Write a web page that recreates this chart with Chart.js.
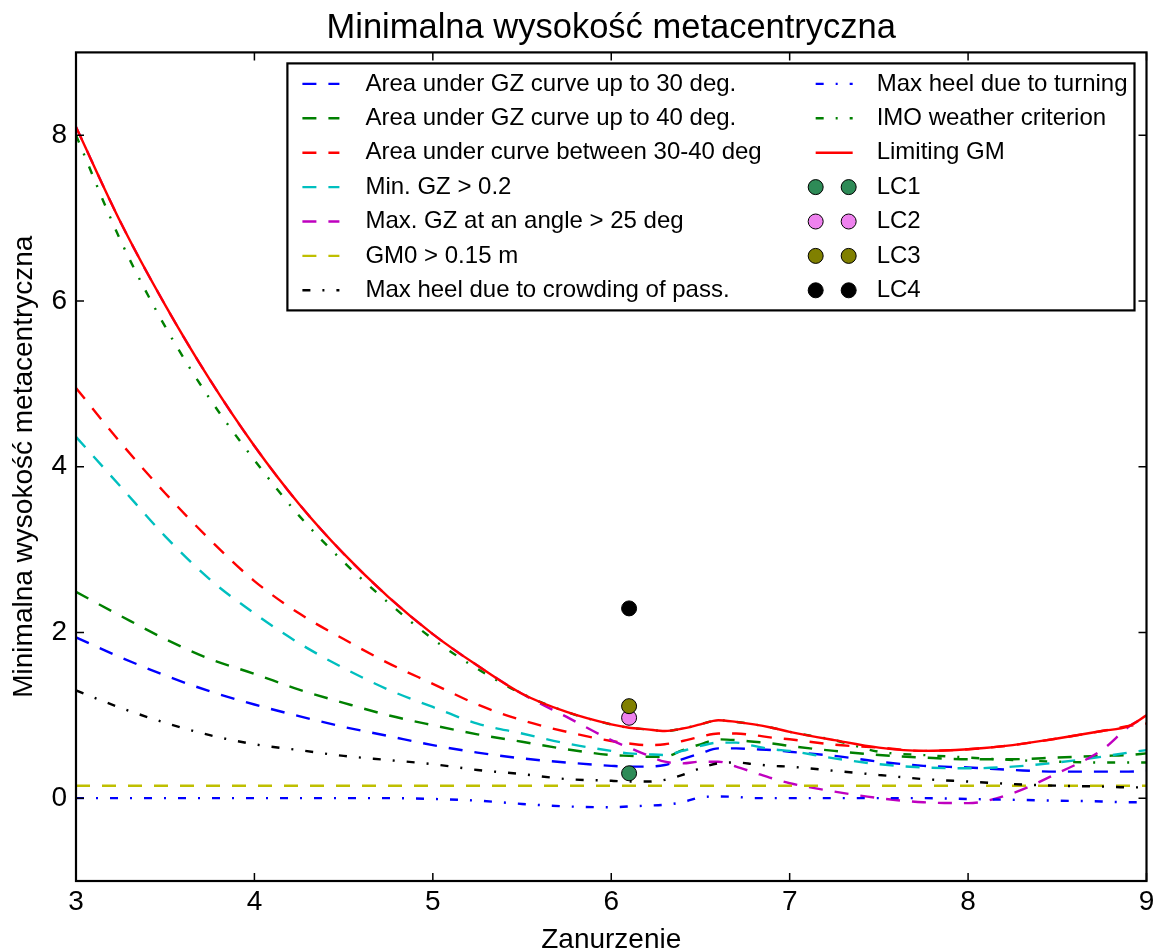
<!DOCTYPE html>
<html>
<head>
<meta charset="utf-8">
<title>Minimalna wysokość metacentryczna</title>
<script src="https://cdn.jsdelivr.net/npm/chart.js@4.4.1/dist/chart.umd.min.js"></script>
<style>
  html, body { margin: 0; padding: 0; background: #fff; }
  #wrap { width: 1155px; height: 952px; }
</style>
</head>
<body>
<div id="wrap"><canvas id="gmChart" width="1155" height="952"></canvas></div>
<script>
// --- dane: zanurzenie [m] i minimalne GM dla kolejnych kryteriów ---
const zanurzenie = [3.0, 3.25, 3.5, 3.75, 4.0, 4.25, 4.5, 4.75, 5.0, 5.25, 5.5, 5.75,
                    6.0, 6.1, 6.2, 6.3, 6.4, 6.5, 6.6, 6.7, 6.8, 6.9, 7.0,
                    7.25, 7.5, 7.75, 8.0, 8.25, 8.5, 8.75, 8.9, 9.0];

const area30    = [1.94, 1.70, 1.48, 1.29, 1.13, 0.99, 0.86, 0.75, 0.64, 0.55, 0.48, 0.43,
                   0.39, 0.38, 0.38, 0.40, 0.47, 0.54, 0.60, 0.60, 0.59, 0.58, 0.56,
                   0.51, 0.44, 0.39, 0.37, 0.34, 0.32, 0.32, 0.32, 0.33];
const area40    = [2.49, 2.20, 1.92, 1.68, 1.50, 1.31, 1.15, 1.00, 0.88, 0.77, 0.68, 0.59,
                   0.52, 0.51, 0.50, 0.50, 0.58, 0.65, 0.71, 0.70, 0.68, 0.66, 0.63,
                   0.57, 0.52, 0.49, 0.47, 0.47, 0.49, 0.51, 0.52, 0.54];
const area3040  = [4.95, 4.29, 3.68, 3.12, 2.62, 2.23, 1.92, 1.63, 1.38, 1.13, 0.94, 0.80,
                   0.69, 0.66, 0.64, 0.65, 0.69, 0.74, 0.78, 0.78, 0.76, 0.73, 0.71,
                   0.645, 0.61, 0.57, 0.59, 0.64, 0.72, 0.81, 0.87, 0.90];
const minGZ     = [4.36, 3.76, 3.16, 2.64, 2.23, 1.87, 1.57, 1.31, 1.10, 0.90, 0.78, 0.66,
                   0.57, 0.54, 0.53, 0.52, 0.57, 0.63, 0.67, 0.67, 0.63, 0.59, 0.57,
                   0.48, 0.41, 0.37, 0.36, 0.38, 0.43, 0.50, 0.55, 0.58];
const maxGZ25   = [8.10, 6.95, 5.95, 5.05, 4.25, 3.55, 2.95, 2.43, 1.98, 1.60, 1.26, 0.98,
                   0.70, 0.61, 0.52, 0.44, 0.42, 0.44, 0.44, 0.38, 0.31, 0.24, 0.18,
                   0.08, 0.00, -0.05, -0.06, 0.06, 0.30, 0.58, 0.86, 0.99];
const gm0X      = [3.0, 9.0];
const gm0       = [0.15, 0.15];
const crowding  = [1.30, 1.09, 0.91, 0.76, 0.65, 0.58, 0.51, 0.46, 0.41, 0.34, 0.29, 0.23,
                   0.21, 0.20, 0.20, 0.22, 0.28, 0.36, 0.42, 0.43, 0.41, 0.39, 0.38,
                   0.33, 0.28, 0.23, 0.20, 0.17, 0.15, 0.14, 0.13, 0.13];
const turning   = [0.00, 0.00, 0.00, 0.00, 0.00, 0.00, 0.00, 0.00, -0.01, -0.03, -0.07, -0.10,
                   -0.11, -0.10, -0.09, -0.08, -0.05, 0.01, 0.02, 0.015, 0.00, 0.00, 0.00,
                   0.00, 0.00, 0.00, -0.01, -0.02, -0.03, -0.04, -0.05, -0.05];
const imoWeather = [8.00, 6.73, 5.69, 4.82, 4.08, 3.41, 2.85, 2.36, 1.92, 1.56, 1.26, 1.04,
                    0.89, 0.85, 0.83, 0.81, 0.84, 0.89, 0.94, 0.92, 0.89, 0.85, 0.80,
                    0.70, 0.56, 0.52, 0.49, 0.46, 0.44, 0.43, 0.43, 0.43];
const limitingGM = [8.10, 6.95, 5.95, 5.05, 4.25, 3.55, 2.95, 2.43, 1.98, 1.60, 1.26, 1.04,
                    0.89, 0.85, 0.83, 0.81, 0.84, 0.89, 0.94, 0.92, 0.89, 0.85, 0.80,
                    0.70, 0.61, 0.57, 0.59, 0.64, 0.72, 0.81, 0.87, 1.00];

// stany załadowania LC1..LC4
const lcLabels = ['LC1', 'LC2', 'LC3', 'LC4'];
const lcX      = [6.1, 6.1, 6.1, 6.1];
const lcGM     = [0.30, 0.97, 1.11, 2.29];
const lcColors = ['#2e8b57', '#ee82ee', '#808000', '#000000'];

const xTicks = [3, 4, 5, 6, 7, 8, 9];
const yTicks = [0, 2, 4, 6, 8];

const FONT = '"Liberation Sans", Arial, Helvetica, sans-serif';
const DASH = [14, 12];
const DASHDOT = [8, 12, 2, 12];
const LINE_W = 2.4;

function seria(label, values, color, dash, xs = zanurzenie) {
    return {
        label,
        data: values.map((v, i) => ({ x: xs[i], y: v })),
        borderColor: color,
        backgroundColor: color,
        borderWidth: LINE_W,
        borderDash: dash,
        cubicInterpolationMode: 'monotone',
        pointRadius: 0,
        fill: false
    };
}

const datasets = [
    seria('Area under GZ curve up to 30 deg.', area30, '#0000ff', DASH),
    seria('Area under GZ curve up to 40 deg.', area40, '#008000', DASH),
    seria('Area under curve between 30-40 deg', area3040, '#ff0000', DASH),
    seria('Min. GZ > 0.2', minGZ, '#00bfbf', DASH),
    seria('Max. GZ at an angle > 25 deg', maxGZ25, '#bf00bf', DASH),
    seria('GM0 > 0.15 m', gm0, '#bfbf00', DASH, gm0X),
    seria('Max heel due to crowding of pass.', crowding, '#000000', DASHDOT),
    seria('Max heel due to turning', turning, '#0000ff', DASHDOT),
    seria('IMO weather criterion', imoWeather, '#008000', DASHDOT),
    seria('Limiting GM', limitingGM, '#ff0000', [])
];

lcLabels.forEach((name, i) => {
    datasets.push({
        label: name,
        data: [{ x: lcX[i], y: lcGM[i] }],
        showLine: false,
        pointRadius: 7.5,
        pointHoverRadius: 7.5,
        pointBackgroundColor: lcColors[i],
        pointBorderColor: '#000',
        pointBorderWidth: 1,
        borderColor: '#000',
        backgroundColor: lcColors[i],
        isMarker: true
    });
});

// później dodane serie rysowane na wierzchu
datasets.forEach((d, i) => { d.order = datasets.length - i; });

// ramka wykresu i znaczniki podziałki skierowane do środka, na wszystkich bokach
const ramkaPlugin = {
    id: 'ramka',
    afterDraw(chart) {
        const { ctx, chartArea: a, scales: { x, y } } = chart;
        const tick = 8;
        ctx.save();
        ctx.strokeStyle = '#000';
        ctx.lineWidth = 1.5;
        ctx.setLineDash([]);
        ctx.beginPath();
        x.ticks.forEach(t => {
            const px = x.getPixelForValue(t.value);
            ctx.moveTo(px, a.bottom); ctx.lineTo(px, a.bottom - tick);
            ctx.moveTo(px, a.top); ctx.lineTo(px, a.top + tick);
        });
        y.ticks.forEach(t => {
            const py = y.getPixelForValue(t.value);
            ctx.moveTo(a.left, py); ctx.lineTo(a.left + tick, py);
            ctx.moveTo(a.right, py); ctx.lineTo(a.right - tick, py);
        });
        ctx.stroke();
        ctx.lineWidth = 2.2;
        ctx.strokeRect(a.left, a.top, a.right - a.left, a.bottom - a.top);
        ctx.restore();
    }
};

// legenda w dwóch kolumnach, w prawym górnym rogu obszaru wykresu
const legendaPlugin = {
    id: 'legenda',
    afterDraw(chart) {
        const { ctx, chartArea: a } = chart;
        const ds = chart.data.datasets;
        const cols = [ds.slice(0, 7), ds.slice(7)];
        const pad = 15, handle = 37, gaps = [26, 24], colGap = 54, padRight = 7;
        const rowH = 34.4;

        ctx.save();
        ctx.font = '24px ' + FONT;
        const widths = cols.map(c => Math.max(...c.map(d => ctx.measureText(d.label).width)));
        const width = pad + handle + gaps[0] + widths[0] + colGap + handle + gaps[1] + widths[1] + padRight;
        const height = 247;
        const right = a.right - 12;
        const top = a.top + 11;
        const left = right - width;

        ctx.fillStyle = '#fff';
        ctx.fillRect(left, top, width, height);
        ctx.lineWidth = 2.2;
        ctx.strokeStyle = '#000';
        ctx.setLineDash([]);
        ctx.strokeRect(left, top, width, height);

        let hx = left + pad;
        cols.forEach((col, c) => {
            col.forEach((d, r) => {
                const cy = top + 20.5 + r * rowH;
                if (d.isMarker) {
                    [hx, hx + 33].forEach(mx => {
                        ctx.beginPath();
                        ctx.setLineDash([]);
                        ctx.arc(mx, cy, 7.5, 0, Math.PI * 2);
                        ctx.fillStyle = d.pointBackgroundColor;
                        ctx.fill();
                        ctx.lineWidth = 1;
                        ctx.strokeStyle = '#000';
                        ctx.stroke();
                    });
                } else {
                    ctx.beginPath();
                    ctx.setLineDash(d.borderDash || []);
                    ctx.lineDashOffset = 0;
                    ctx.lineWidth = LINE_W;
                    ctx.strokeStyle = d.borderColor;
                    ctx.moveTo(hx, cy);
                    ctx.lineTo(hx + handle, cy);
                    ctx.stroke();
                }
                ctx.setLineDash([]);
                ctx.fillStyle = '#000';
                ctx.textAlign = 'left';
                ctx.textBaseline = 'middle';
                ctx.fillText(d.label, hx + handle + gaps[c], cy);
            });
            hx += handle + gaps[c] + widths[c] + colGap;
        });
        ctx.restore();
    }
};

Chart.defaults.font.family = FONT;
Chart.defaults.color = '#000';

new Chart(document.getElementById('gmChart').getContext('2d'), {
    type: 'line',
    data: { datasets },
    options: {
        responsive: false,
        animation: false,
        events: [],
        layout: { padding: { top: 0, right: 0, bottom: 0, left: 0 } },
        plugins: {
            legend: { display: false },
            tooltip: { enabled: false },
            title: {
                display: true,
                fullSize: false,
                text: 'Minimalna wysokość metacentryczna',
                color: '#000',
                font: { size: 34.5, weight: 'normal' },
                padding: { top: 8, bottom: 3 }
            }
        },
        scales: {
            x: {
                type: 'linear',
                min: 3,
                max: 9,
                afterBuildTicks: s => { s.ticks = xTicks.map(v => ({ value: v })); },
                afterFit: s => { s.height = 71; s.paddingLeft = 0; s.paddingRight = 8; },
                grid: { display: false, drawTicks: false },
                border: { display: false },
                ticks: { font: { size: 28 }, color: '#000', padding: 4, maxRotation: 0, autoSkip: false },
                title: {
                    display: true,
                    text: 'Zanurzenie',
                    color: '#000',
                    font: { size: 28 },
                    padding: { top: 0, bottom: -5 }
                }
            },
            y: {
                type: 'linear',
                min: -1,
                max: 9,
                afterBuildTicks: s => { s.ticks = yTicks.map(v => ({ value: v })); },
                afterFit: s => { s.width = 76; s.paddingTop = 0; s.paddingBottom = 0; },
                grid: { display: false, drawTicks: false },
                border: { display: false },
                ticks: { font: { size: 28 }, color: '#000', padding: 9, autoSkip: false },
                title: {
                    display: true,
                    text: 'Minimalna wysokość metacentryczna',
                    color: '#000',
                    font: { size: 28 },
                    padding: { top: 7, bottom: 0 }
                }
            }
        }
    },
    plugins: [ramkaPlugin, legendaPlugin]
});
</script>
</body>
</html>
